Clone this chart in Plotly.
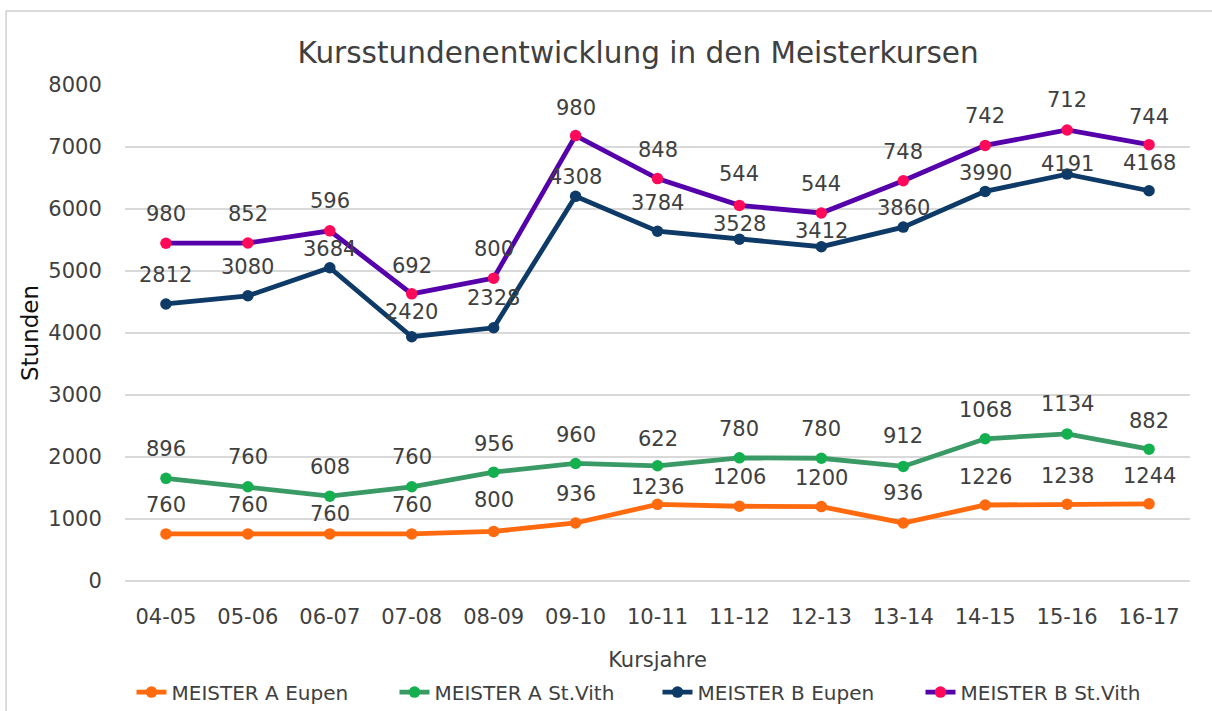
import plotly.graph_objects as go

categories = ["04-05", "05-06", "06-07", "07-08", "08-09", "09-10", "10-11",
              "11-12", "12-13", "13-14", "14-15", "15-16", "16-17"]
meister_a_eupen = [760, 760, 760, 760, 800, 936, 1236, 1206, 1200, 936, 1226, 1238, 1244]
meister_a_stvith = [896, 760, 608, 760, 956, 960, 622, 780, 780, 912, 1068, 1134, 882]
meister_b_eupen = [2812, 3080, 3684, 2420, 2328, 4308, 3784, 3528, 3412, 3860, 3990, 4191, 4168]
meister_b_stvith = [980, 852, 596, 692, 800, 980, 848, 544, 544, 748, 742, 712, 744]

# label offsets above points (pixels) -- styling only
shift_a_eupen = [29, 29, 20, 29, 31, 29, 17, 29, 29, 30, 28, 28, 28]
shift_a_stvith = [29, 30, 29, 30, 28, 28, 27, 29, 29, 30, 29, 30, 28]
shift_b_eupen = [29, 29, 19, 25, 30, 19, 28, 15, 16, 19, 18, 10, 28]
shift_b_stvith = [29, 29, 30, 28, 29, 28, 29, 31, 29, 29, 29, 30, 28]

series = [
    ("MEISTER A Eupen", meister_a_eupen, shift_a_eupen, "#FF6A0E", "#FF6A0E"),
    ("MEISTER A St.Vith", meister_a_stvith, shift_a_stvith, "#3A9A66", "#14B050"),
    ("MEISTER B Eupen", meister_b_eupen, shift_b_eupen, "#0D3A66", "#0D3A66"),
    ("MEISTER B St.Vith", meister_b_stvith, shift_b_stvith, "#5500AA", "#FF0A5A"),
]

FONT = "DejaVu Sans"
TXT = "#404040"

fig = go.Figure()
annotations = []
running = [0] * len(categories)
for name, vals, shifts, lc, mc in series:
    fig.add_trace(go.Scatter(
        x=categories, y=vals, name=name,
        stackgroup="one", fill="none",
        mode="lines+markers",
        line=dict(color=lc, width=4.8),
        marker=dict(color=mc, size=11.5),
    ))
    running = [r + v for r, v in zip(running, vals)]
    for cat, cum, v, s in zip(categories, running, vals, shifts):
        annotations.append(dict(
            x=cat, y=cum, xref="x", yref="y", text=str(v), showarrow=False,
            yshift=s, yanchor="middle", xanchor="center",
            font=dict(family=FONT, size=21, color=TXT),
        ))

fig.update_layout(
    width=1212, height=711,
    margin=dict(l=125, r=22, t=85, b=130, autoexpand=False),
    paper_bgcolor="white", plot_bgcolor="white",
    font=dict(family=FONT, color=TXT),
    title=dict(text="Kursstundenentwicklung in den Meisterkursen",
               font=dict(family=FONT, size=29.5, color=TXT),
               x=0.5265, xanchor="center", y=0.926, yanchor="middle"),
    showlegend=True,
    legend=dict(orientation="h", x=0.5, xanchor="center", y=-0.224, yanchor="middle",
                font=dict(family=FONT, size=20, color=TXT),
                entrywidth=218),
    annotations=annotations,
    shapes=[dict(type="rect", xref="paper", yref="paper",
                 x0=-0.1117, x1=1.03, y0=-0.27, y1=1.149,
                 line=dict(color="#d0d0d0", width=1.5), layer="below")],
)
fig.update_xaxes(
    type="category", automargin=False,
    range=[-0.5, len(categories) - 0.5],
    tickfont=dict(family=FONT, size=21, color=TXT),
    title=dict(text="Kursjahre", font=dict(family=FONT, size=21, color=TXT), standoff=24),
    showgrid=False, showline=False,
    ticks="outside", ticklen=17, tickcolor="rgba(0,0,0,0)",
)
fig.update_yaxes(
    range=[0, 8000], dtick=1000, automargin=False,
    tickfont=dict(family=FONT, size=21, color=TXT),
    title=dict(text="Stunden", font=dict(family=FONT, size=23, color="#111111"), standoff=3),
    showgrid=True, gridcolor="#d9d9d9", gridwidth=1.5,
    zeroline=True, zerolinecolor="#d9d9d9", zerolinewidth=1.5,
    ticks="outside", ticklen=18, tickcolor="rgba(0,0,0,0)",
)

fig.write_html("out.html", config={"displayModeBar": False},
               post_script="document.body.style.margin='0';")
